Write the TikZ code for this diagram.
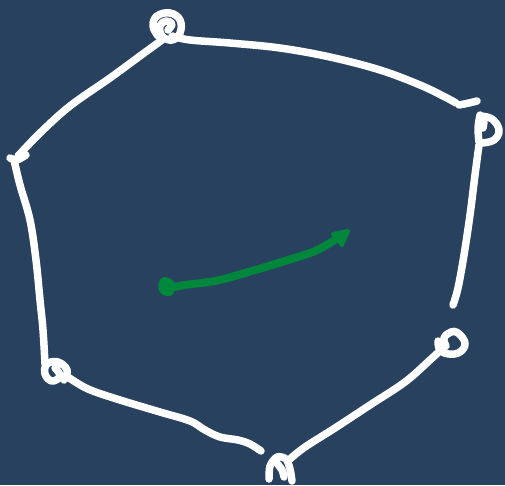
\documentclass[tikz,border=0pt]{standalone}
\definecolor{bg}{RGB}{39,65,94}
\definecolor{ink}{RGB}{0,135,60}
\tikzset{pen/.style={white,line width=7.5pt,line cap=round,line join=round},
gpen/.style={ink,line width=8pt,line cap=round,line join=round}}
\begin{document}
\begin{tikzpicture}[x=1pt,y=-1pt]
\fill[bg] (0,0) rectangle (505,485);
\useasboundingbox (0,0) rectangle (505,485);
% top loop
\draw[pen] plot[smooth,tension=0.7] coordinates {(168,30) (172,24) (166,21) (160,26) (162,36) (172,40) (180,33) (180,20) (170,13) (157,16) (153,26) (158,36)};
% top to right
\draw[pen] plot[smooth,tension=0.6] coordinates {(172,36) (190,40) (230,43) (280,48) (330,57) (380,70) (420,85) (445,97) (456,103)};
\draw[pen] plot[smooth] coordinates {(459,105) (469,103) (477,101)};
% right D loop
\draw[pen] plot[smooth,tension=0.6] coordinates {(479,142) (478,128) (480,115)};
\draw[pen] plot[smooth,tension=0.7] coordinates {(480,116) (492,119) (499,130) (494,140) (482,143)};
\draw[pen] (484,122) -- (483,128);
% right side
\draw[pen] plot[smooth,tension=0.6] coordinates {(479,145) (475,175) (470,215) (464,255) (458,288) (453,305)};
% right lower loop
\draw[pen] plot[smooth,tension=0.7] coordinates {(446,346) (444,338) (451,332) (458,333) (465,343) (460,352) (449,354) (440,350) (438,341)};
% bottom right line
\draw[pen] plot[smooth,tension=0.6] coordinates {(445,346) (430,360) (405,382) (370,405) (335,428) (305,447) (290,459)};
% bottom loop
\draw[pen] plot[smooth,tension=0.5] coordinates {(269,479) (270,466) (277,457) (286,459) (290,469) (292,481)};
\draw[pen] plot[smooth] coordinates {(276,462) (282,470) (284,477)};
% bottom left line
\draw[pen] plot[smooth,tension=0.6] coordinates {(261,451) (250,444) (238,440) (220,437) (205,430) (190,421) (160,412) (120,400) (88,389) (68,377)};
% left lower loop
\draw[pen] plot[smooth,tension=0.7] coordinates {(55,368) (60,376) (52,381) (45,374) (47,364) (58,362) (67,370) (64,380)};
% left line
\draw[pen] plot[smooth,tension=0.6] coordinates {(45,364) (43,330) (40,300) (36,260) (30,220) (20,185) (14,160)};
\draw[pen] plot[smooth] coordinates {(10,158) (17,160) (26,155)};
% left top line
\draw[pen] plot[smooth,tension=0.6] coordinates {(18,156) (40,133) (70,106) (110,78) (140,56) (162,40)};
% green arrow
\draw[gpen] plot[smooth,tension=0.6] coordinates {(165,289) (185,285) (215,281) (245,273) (285,261) (315,251) (338,238)};
\draw[gpen] plot[smooth,tension=0.7] coordinates {(171,284) (164,281) (163,290) (170,292)};
\fill[ink] (333,234) -- (350,230) -- (343,247) -- cycle;
\draw[gpen,line width=4pt] (333,234) -- (348,231) -- (342,245) -- cycle;
\end{tikzpicture}
\end{document}
